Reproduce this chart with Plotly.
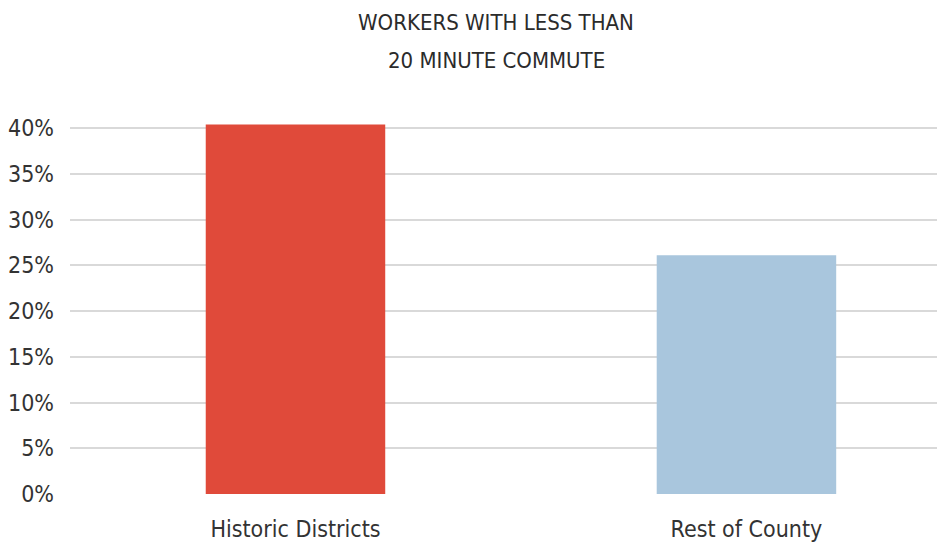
import plotly.graph_objects as go

# data
categories = ["Historic Districts", "Rest of County"]
share_short_commute = [0.404, 0.261]
bar_colors = ["#E04A3A", "#A9C6DD"]
tick_vals = [0, 0.05, 0.10, 0.15, 0.20, 0.25, 0.30, 0.35, 0.40]
tick_text = ["0%", "5%", "10%", "15%", "20%", "25%", "30%", "35%", "40%"]

FONT = "DejaVu Sans Condensed, Liberation Sans Narrow, Roboto Condensed, Roboto, sans-serif"
TXT = "#333333"

# page body adds an 8px margin, so the figure is drawn 8px smaller
W, H = 937, 537
L, T, B = 60, 111, 51
plot_h = H - T - B
plot_w = W - L

fig = go.Figure()
fig.add_trace(go.Bar(
    x=categories,
    y=share_short_commute,
    marker_color=bar_colors,
    marker_line_width=0,
    width=0.398,
    hoverinfo="x+y",
))

fig.update_layout(
    width=W,
    height=H,
    margin=dict(l=L, r=0, t=T, b=B),
    plot_bgcolor="white",
    paper_bgcolor="white",
    font=dict(family=FONT, color=TXT, size=23),
    showlegend=False,
)

fig.update_yaxes(
    range=[0, 0.41],
    tickvals=tick_vals,
    ticktext=tick_text,
    showgrid=True,
    gridcolor="#d9d9d9",
    gridwidth=1.5,
    zeroline=False,
    showline=False,
    ticks="",
    ticklabelstandoff=15,
    tickfont=dict(size=23, family=FONT, color=TXT),
)

fig.update_xaxes(
    range=[-0.5, -0.5 + plot_w / 452],
    showgrid=False,
    showline=False,
    ticks="",
    ticklabelstandoff=19,
    tickfont=dict(size=23, family=FONT, color=TXT),
)

## title as two separately placed lines
for txt, ypix in [("WORKERS WITH LESS THAN", 14), ("20 MINUTE COMMUTE", 52)]:
    fig.add_annotation(
        text=txt,
        xref="paper", yref="paper",
        x=(487 - L) / plot_w, y=1 + (T - ypix) / plot_h,
        xanchor="center", yanchor="middle",
        showarrow=False,
        font=dict(family=FONT, size=22, color="#2b2b2b"),
    )

fig.write_html("out.html")
